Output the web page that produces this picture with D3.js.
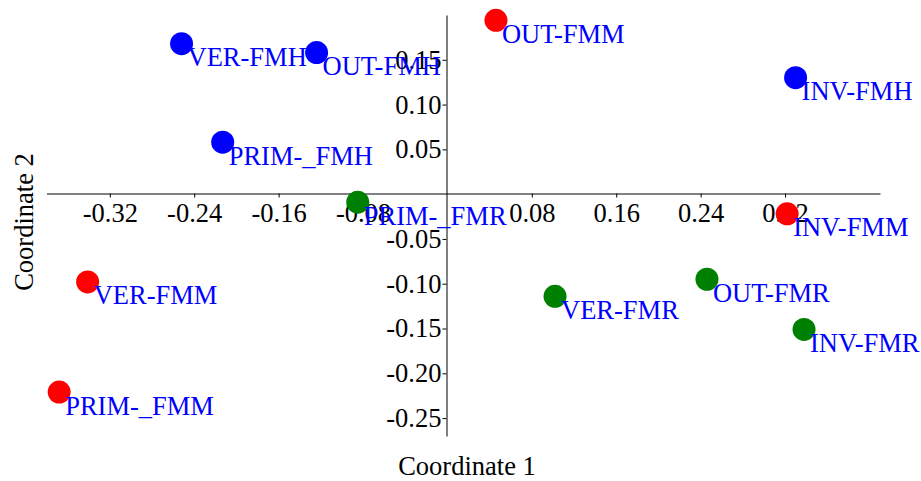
<!DOCTYPE html>
<html>
<head>
<meta charset="utf-8">
<script src="https://cdn.jsdelivr.net/npm/d3@7"></script>
<style>
  html, body { margin: 0; padding: 0; background: #fff; }
  svg { display: block; font-family: "Liberation Serif", "Times New Roman", serif; }
</style>
</head>
<body>
<svg id="chart" width="921" height="481"></svg>
<script>
// MDS coordinates per site / treatment
const labels = ["VER-FMH", "OUT-FMH", "PRIM-_FMH", "INV-FMH",
                "OUT-FMM", "INV-FMM", "VER-FMM", "PRIM-_FMM",
                "PRIM-_FMR", "VER-FMR", "OUT-FMR", "INV-FMR"];
const coord1 = [-0.252, -0.124, -0.213, 0.330,
                 0.046,  0.322, -0.341, -0.368,
                -0.085,  0.102,  0.246,  0.338];
const coord2 = [ 0.168,  0.158,  0.058, 0.130,
                 0.194, -0.022, -0.098, -0.221,
                -0.009, -0.114, -0.095, -0.151];
const group  = ["FMH", "FMH", "FMH", "FMH",
                "FMM", "FMM", "FMM", "FMM",
                "FMR", "FMR", "FMR", "FMR"];

const groupNames  = ["FMH", "FMM", "FMR"];
const groupColors = ["#0000ff", "#ff0000", "#008000"];

const xTicks = [-0.32, -0.24, -0.16, -0.08, 0.08, 0.16, 0.24, 0.32];
const yTicks = [0.15, 0.10, 0.05, -0.05, -0.10, -0.15, -0.20, -0.25];

const xTitle = "Coordinate 1";
const yTitle = "Coordinate 2";

const svg = d3.select("#chart");

const x = d3.scaleLinear().domain([-0.38, 0.41]).range([46.5, 880]);
const y = d3.scaleLinear().domain([-0.27, 0.2]).range([436, 15]);
const color = d3.scaleOrdinal().domain(groupNames).range(groupColors);

const fontSize = 26.5;
const fmt = d => d3.format(".2f")(d).replace("\u2212", "-");

// horizontal axis through y = 0
const gx = svg.append("g")
  .attr("transform", `translate(0,${Math.round(y(0)) - 0.5})`)
  .call(d3.axisBottom(x).tickValues(xTicks).tickFormat(fmt)
        .tickSize(4).tickSizeOuter(0).tickPadding(6));
gx.select(".domain").attr("stroke", "#000");
gx.selectAll(".tick line").attr("stroke", "#000");
gx.selectAll(".tick text")
  .attr("font-size", fontSize).attr("fill", "#000")
  .attr("font-family", "Liberation Serif, serif");

// vertical axis through x = 0
const gy = svg.append("g")
  .attr("transform", `translate(${Math.round(x(0)) - 0.5},0)`)
  .call(d3.axisLeft(y).tickValues(yTicks).tickFormat(fmt)
        .tickSize(4).tickSizeOuter(0).tickPadding(1));
gy.select(".domain").attr("stroke", "#000");
gy.selectAll(".tick line").attr("stroke", "#000");
gy.selectAll(".tick text")
  .attr("font-size", fontSize).attr("fill", "#000")
  .attr("font-family", "Liberation Serif, serif");

// axis titles
svg.append("text")
  .attr("x", 467).attr("y", 475)
  .attr("text-anchor", "middle")
  .attr("font-size", fontSize)
  .text(xTitle);

svg.append("text")
  .attr("transform", "translate(33,222) rotate(-90)")
  .attr("text-anchor", "middle")
  .attr("font-size", fontSize)
  .text(yTitle);

const idx = d3.range(labels.length);

// points
svg.append("g").selectAll("circle")
  .data(idx).join("circle")
  .attr("cx", i => x(coord1[i]))
  .attr("cy", i => y(coord2[i]))
  .attr("r", 11.5)
  .attr("fill", i => color(group[i]));

// point labels
svg.append("g").selectAll("text")
  .data(idx).join("text")
  .attr("x", i => x(coord1[i]) + 6)
  .attr("y", i => y(coord2[i]) + 22.5)
  .attr("font-size", fontSize)
  .attr("fill", "#0000ff")
  .text(i => labels[i]);
</script>
</body>
</html>
